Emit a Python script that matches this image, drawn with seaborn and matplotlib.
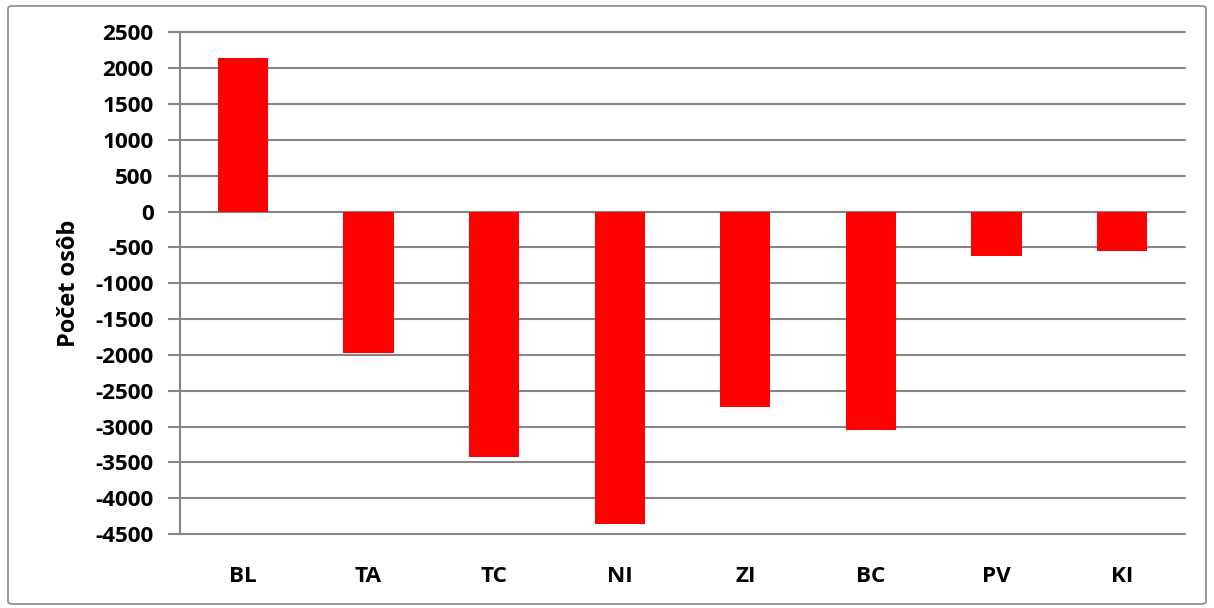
import matplotlib
matplotlib.use("Agg")
import matplotlib.pyplot as plt
import seaborn as sns
import pandas as pd
from matplotlib.patches import FancyBboxPatch

categories = ["BL", "TA", "TC", "NI", "ZI", "BC", "PV", "KI"]
values = [2150, -1975, -3430, -4360, -2730, -3045, -620, -550]
y_ticks = list(range(-4500, 2501, 500))
y_label = "Počet osôb"

sns.set_theme(style="white")
plt.rcParams['font.family'] = ['Open Sans', 'DejaVu Sans']

df = pd.DataFrame({"cat": categories, "val": values})

fig = plt.figure(figsize=(12.14, 6.08), dpi=100)
ax = fig.add_axes([180/1214, 1 - 534/608, (1185-180)/1214, (534-32.5)/608])

sns.barplot(data=df, x="cat", y="val", color="#ff0000", saturation=1, width=0.4,
            linewidth=0, ax=ax, zorder=3)

ax.set_ylim(-4500, 2500)
ax.set_yticks(y_ticks)
ax.set_yticklabels([str(t) for t in y_ticks], fontsize=16.2, fontweight="bold", color="black")
ax.yaxis.grid(True, color="#868686", linewidth=1.5, zorder=0)
for gl in ax.get_ygridlines():
    gl.set_clip_on(False)
ax.set_axisbelow(True)
for t in ax.get_xticklabels():
    t.set_fontsize(16.2)
    t.set_fontweight("bold")
    t.set_color("black")
ax.tick_params(axis="x", length=0, pad=23)
ax.tick_params(axis="y", length=9, width=1.5, color="#868686", left=True, pad=10)
ax.set_xlabel("")
ax.set_ylabel(y_label, fontsize=17, fontweight="bold", labelpad=10, color="black")
for s in ["top", "right", "bottom"]:
    ax.spines[s].set_visible(False)
ax.spines["left"].set_color("#868686")
ax.spines["left"].set_linewidth(1.5)

border = FancyBboxPatch((8/1214, 4/608), 1198/1214, 598/608,
                        boxstyle="round,pad=0,rounding_size=0.004",
                        transform=fig.transFigure, fill=False,
                        edgecolor="#888888", linewidth=1.2)
fig.patches.append(border)

fig.savefig("out.png", dpi=100)
